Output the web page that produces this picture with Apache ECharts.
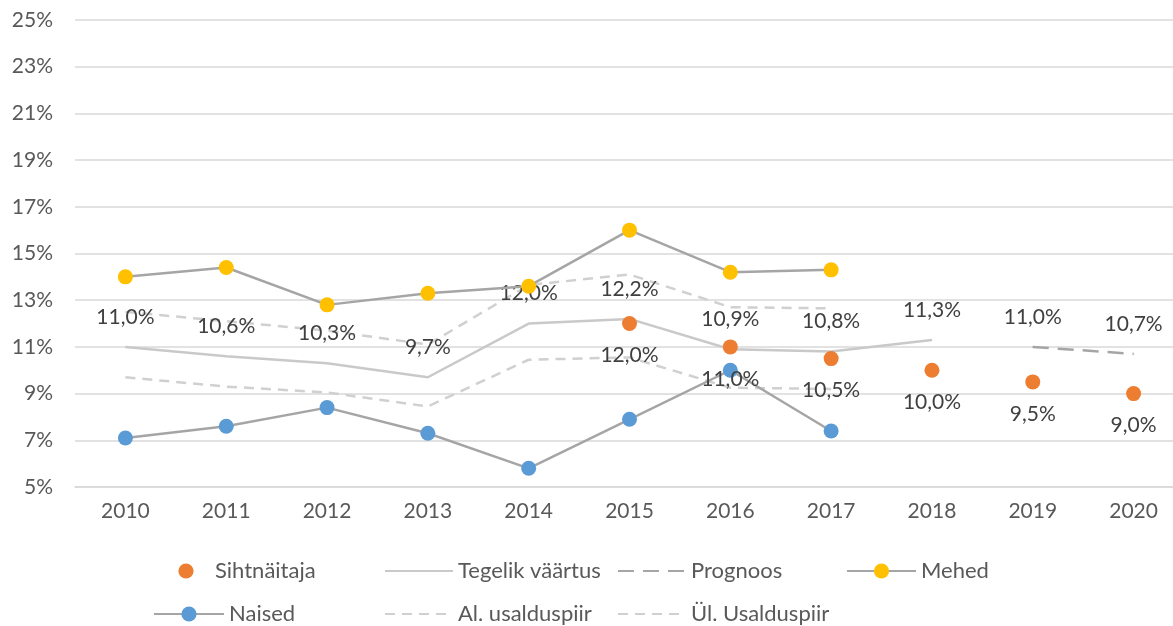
<!DOCTYPE html>
<html>
<head>
<meta charset="utf-8">
<script src="https://cdn.jsdelivr.net/npm/echarts@6/dist/echarts.min.js"></script>
<style>
  html, body { margin: 0; padding: 0; background: #fff; overflow: hidden; }
  #chart { width: 1186px; height: 626px; }
</style>
</head>
<body>
<div id="chart"></div>
<script>
const years = ['2010', '2011', '2012', '2013', '2014', '2015', '2016', '2017', '2018', '2019', '2020']
const yTicks = [5, 7, 9, 11, 13, 15, 17, 19, 21, 23, 25]

// väärtused protsentides, null = puudub
const sihtnaitaja = [null, null, null, null, null, 12.0, 11.0, 10.5, 10.0, 9.5, 9.0]
const tegelik = [11.0, 10.6, 10.3, 9.7, 12.0, 12.2, 10.9, 10.8, 11.3, null, null]
const prognoos = [null, null, null, null, null, null, null, null, null, 11.0, 10.7]
const mehed = [14.0, 14.4, 12.8, 13.3, 13.6, 16.0, 14.2, 14.3, null, null, null]
const naised = [7.1, 7.6, 8.4, 7.3, 5.8, 7.9, 10.0, 7.4, null, null, null]
const alUsaldus = [9.7, 9.3, 9.05, 8.45, 10.45, 10.55, 9.25, 9.2, null, null, null]
const ylUsaldus = [12.5, 12.1, 11.7, 11.1, 13.65, 14.1, 12.7, 12.65, null, null, null]

const FONT = 'Lato'
const fmt = (v) => v.toFixed(1).replace('.', ',') + '%'

const chart = echarts.init(document.getElementById('chart'))

const labelBase = {
  show: true,
  color: '#404040',
  fontFamily: FONT,
  fontSize: 21,
  formatter: (p) => fmt(p.value)
}

// legendi asukohad (Exceli paigutus)
const legendItems = [
  { name: 'Sihtnäitaja', left: 161, top: 560, w: 48, noLine: true },
  { name: 'Tegelik väärtus', left: 384, top: 560, w: 68 },
  { name: 'Prognoos', left: 617, top: 560, w: 68 },
  { name: 'Mehed', left: 846, top: 560, w: 69, marker: true },
  { name: 'Naised', left: 153, top: 603, w: 70, marker: true },
  { name: 'Al. usalduspiir', left: 384, top: 603, w: 68 },
  { name: 'Ül. Usalduspiir', left: 617, top: 603, w: 68 }
]

const legends = legendItems.map(it => {
  const d = { name: it.name }
  if (it.noLine) d.lineStyle = { opacity: 0 }
  if (!it.marker && !it.noLine) d.itemStyle = { opacity: 0 }
  return {
    data: [d],
    left: it.left,
    top: it.top,
    padding: 0,
    itemWidth: it.w,
    itemHeight: 19,
    selectedMode: false,
    textStyle: { color: '#595959', fontFamily: FONT, fontSize: 22 }
  }
})

const option = {
  animation: false,
  backgroundColor: '#fff',
  grid: { left: 75, top: 20, width: 1109, height: 467 },
  legend: legends,
  xAxis: {
    type: 'category',
    data: years,
    axisLine: { lineStyle: { color: '#D9D9D9', width: 1.5 } },
    axisTick: { show: false },
    axisLabel: { color: '#595959', fontFamily: FONT, fontSize: 21, margin: 14 }
  },
  yAxis: {
    type: 'value',
    min: yTicks[0],
    max: yTicks[yTicks.length - 1],
    interval: 2,
    axisLine: { show: false },
    axisTick: { show: false },
    axisLabel: { color: '#595959', fontFamily: FONT, fontSize: 21, margin: 22, formatter: (v) => v + '%' },
    splitLine: { lineStyle: { color: '#D9D9D9', width: 1.5 } }
  },
  series: [
    {
      name: 'Sihtnäitaja',
      type: 'line',
      data: sihtnaitaja,
      symbol: 'circle',
      symbolSize: 15,
      color: '#ED7D31',
      lineStyle: { opacity: 0 },
      label: { ...labelBase, position: 'bottom', distance: 14 },
      z: 3
    },
    {
      name: 'Tegelik väärtus',
      type: 'line',
      data: tegelik,
      symbol: 'circle',
      symbolSize: 1,
      color: '#C9C9C9',
      lineStyle: { color: '#C9C9C9', width: 2.5 },
      label: { ...labelBase, position: 'top', distance: 19 },
      z: 2
    },
    {
      name: 'Prognoos',
      type: 'line',
      data: prognoos,
      symbol: 'circle',
      symbolSize: 1,
      color: '#A5A5A5',
      lineStyle: { color: '#A5A5A5', width: 2.5, type: [16, 9] },
      label: { ...labelBase, position: 'top', distance: 19 },
      z: 2
    },
    {
      name: 'Mehed',
      type: 'line',
      data: mehed,
      symbol: 'circle',
      symbolSize: 15,
      itemStyle: { color: '#FFC000' },
      lineStyle: { color: '#A5A5A5', width: 2.5 },
      z: 3
    },
    {
      name: 'Naised',
      type: 'line',
      data: naised,
      symbol: 'circle',
      symbolSize: 15,
      itemStyle: { color: '#5B9BD5' },
      lineStyle: { color: '#A5A5A5', width: 2.5 },
      z: 3
    },
    {
      name: 'Al. usalduspiir',
      type: 'line',
      data: alUsaldus,
      symbol: 'none',
      color: '#D0D0D0',
      lineStyle: { color: '#D0D0D0', width: 2.5, type: [10, 7] },
      z: 1
    },
    {
      name: 'Ül. Usalduspiir',
      type: 'line',
      data: ylUsaldus,
      symbol: 'none',
      color: '#D0D0D0',
      lineStyle: { color: '#D0D0D0', width: 2.5, type: [10, 7] },
      z: 1
    }
  ]
}

chart.setOption(option)
</script>
</body>
</html>
